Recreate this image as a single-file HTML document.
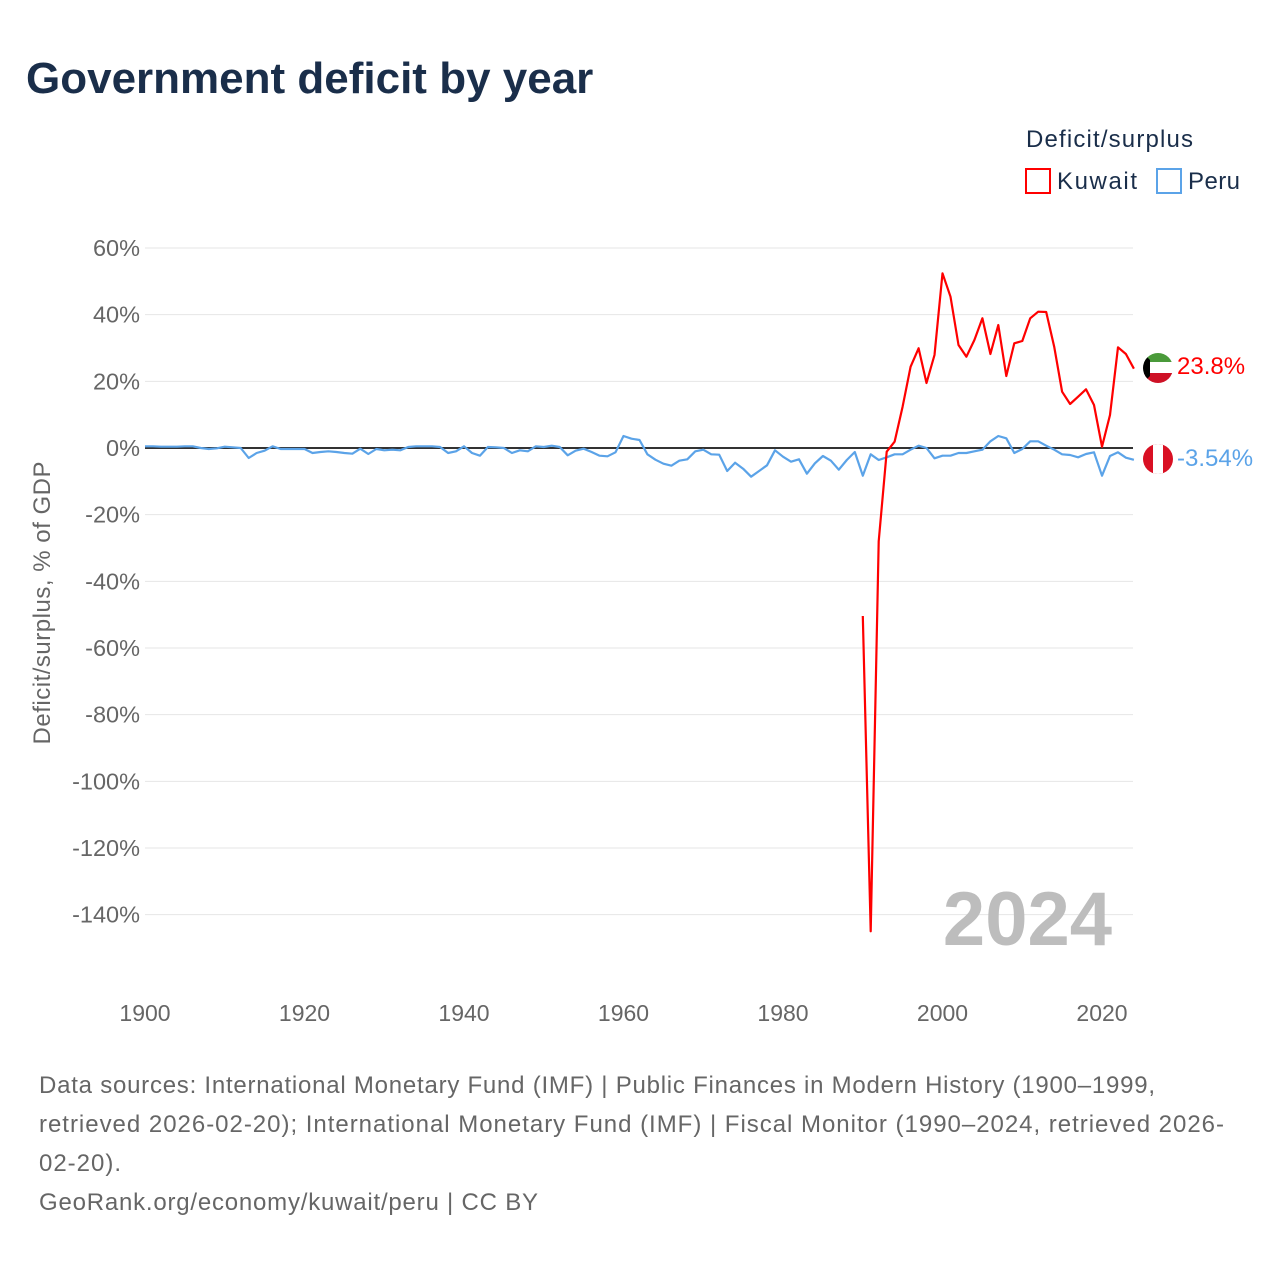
<!DOCTYPE html>
<html><head><meta charset="utf-8"><style>
body{margin:0;background:#fff;font-family:"Liberation Sans",sans-serif}
svg{display:block}
</style></head><body>
<svg id="chart" width="1280" height="1280" viewBox="0 0 1280 1280" xmlns="http://www.w3.org/2000/svg">
<text x="26" y="93" font-size="44" font-weight="bold" fill="#1a2e4a" font-family="Liberation Sans, sans-serif">Government deficit by year</text>
<g>
<text x="1026" y="147" font-size="24" fill="#1a2e4a" textLength="167">Deficit/surplus</text>
<g><rect x="1026" y="169" width="24" height="24" fill="#fff" stroke="#ff0000" stroke-width="2"/><text x="1057" y="189" font-size="24" fill="#1a2e4a" textLength="80">Kuwait</text></g>
<g><rect x="1157" y="169" width="24" height="24" fill="#fff" stroke="#5ba3e8" stroke-width="2"/><text x="1188" y="189" font-size="24" fill="#1a2e4a" textLength="52">Peru</text></g>
</g>
<g id="grid"></g>
<g id="yticks"></g>
<g id="xticks"></g>
<text transform="translate(50,603) rotate(-90)" text-anchor="middle" font-size="24" fill="#666" textLength="283">Deficit/surplus, % of GDP</text>
<text x="1112" y="945" text-anchor="end" font-size="76" font-weight="bold" fill="#bdbdbd">2024</text>
<g id="series"></g>
<g>
<clipPath id="ck"><circle cx="1158" cy="368" r="15"/></clipPath>
<g clip-path="url(#ck)"><rect x="1140" y="350" width="40" height="12" fill="#4a9a3a"/><rect x="1140" y="362" width="40" height="11" fill="#fff"/><rect x="1140" y="373" width="40" height="12" fill="#ce1126"/><polygon points="1140,350 1150,360 1150,376 1140,386" fill="#000"/></g></g>
<g>
<clipPath id="cp"><circle cx="1158" cy="459" r="15"/></clipPath>
<g clip-path="url(#cp)"><rect x="1140" y="441" width="40" height="36" fill="#d91023"/><rect x="1153" y="441" width="10" height="36" fill="#fff"/></g></g>
<text id="kulabel" x="1177" y="374" font-size="24" fill="#ff0000"></text>
<text id="pelabel" x="1177" y="466" font-size="24" fill="#5ba3e8"></text>
<g font-size="24" fill="#666">
<text x="39" y="1093" textLength="1116">Data sources: International Monetary Fund (IMF) | Public Finances in Modern History (1900–1999,</text>
<text x="39" y="1132" textLength="1185">retrieved 2026-02-20); International Monetary Fund (IMF) | Fiscal Monitor (1990–2024, retrieved 2026-</text>
<text x="39" y="1171" textLength="82">02-20).</text>
<text x="39" y="1210" textLength="499">GeoRank.org/economy/kuwait/peru | CC BY</text>
</g>
</svg>
<script>
const yTicks=[60,40,20,0,-20,-40,-60,-80,-100,-120,-140];
const xTicks=[1900,1920,1940,1960,1980,2000,2020];
const kuwaitYears=[1990,1991,1992,1993,1994,1995,1996,1997,1998,1999,2000,2001,2002,2003,2004,2005,2006,2007,2008,2009,2010,2011,2012,2013,2014,2015,2016,2017,2018,2019,2020,2021,2022,2023,2024];
const kuwaitValues=[-50.4,-145,-28,-1.1,1.9,12.4,24.4,29.9,19.5,27.9,52.4,45.4,30.9,27.4,32.4,38.9,28.2,36.9,21.6,31.4,32.1,38.9,40.9,40.8,30.4,16.9,13.2,15.4,17.6,12.9,0.4,9.9,30.2,28.2,23.8];
const peruStart=1900;
const peruValues=[0.5,0.5,0.4,0.4,0.4,0.5,0.5,0,-0.3,-0.1,0.4,0.2,0,-3,-1.5,-0.8,0.5,-0.3,-0.3,-0.3,-0.3,-1.5,-1.2,-1,-1.2,-1.5,-1.7,-0.2,-1.8,-0.3,-0.7,-0.5,-0.7,0.3,0.5,0.5,0.5,0.3,-1.5,-1,0.5,-1.5,-2.3,0.3,0.2,0,-1.5,-0.7,-1,0.5,0.3,0.7,0.3,-2.2,-0.8,-0.2,-1.2,-2.3,-2.5,-1.3,3.6,2.8,2.4,-1.9,-3.5,-4.7,-5.3,-3.8,-3.4,-1,-0.5,-1.9,-2,-6.9,-4.4,-6.2,-8.6,-6.9,-5.2,-0.7,-2.6,-4.1,-3.4,-7.7,-4.6,-2.4,-3.8,-6.5,-3.6,-1.2,-8.3,-1.9,-3.6,-2.8,-1.9,-1.9,-0.5,0.7,0,-3.1,-2.3,-2.3,-1.5,-1.5,-1,-0.5,2,3.6,2.9,-1.5,-0.3,2,2,0.7,-0.5,-1.9,-2.1,-2.8,-1.8,-1.3,-8.3,-2.4,-1.3,-2.9,-3.54];
const X=y=>145+(y-1900)*957/120;
const Y=v=>448-v*200/60;
const NS="http://www.w3.org/2000/svg";
function mk(tag,attrs,parent){const e=document.createElementNS(NS,tag);for(const k in attrs)e.setAttribute(k,attrs[k]);parent.appendChild(e);return e;}
const grid=document.getElementById('grid'),yt=document.getElementById('yticks'),xt=document.getElementById('xticks'),ser=document.getElementById('series');
yTicks.forEach(t=>{
 if(t!==0){const l=mk('line',{x1:145,x2:1133,y1:Y(t),y2:Y(t),stroke:'#e6e6e6','stroke-width':1},grid);
 
 }
 const tx=mk('text',{x:140,y:Y(t)+8,'text-anchor':'end','font-size':23.5,fill:'#666'},yt);tx.textContent=t+'%';
 
 
});
xTicks.forEach(t=>{const tx=mk('text',{x:X(t),y:1021,'text-anchor':'middle','font-size':23,fill:'#666'},xt);tx.textContent=t;
 
 });
const zl=mk('line',{x1:145,x2:1133,y1:Y(0),y2:Y(0),stroke:'#333','stroke-width':2},grid);


const pp=peruValues.map((v,i)=>X(peruStart+i).toFixed(1)+','+Y(v).toFixed(1)).join(' ');
const pl=mk('polyline',{points:pp,fill:'none',stroke:'#5ba3e8','stroke-width':2.2,'stroke-linejoin':'round'},ser);


const kp=kuwaitValues.map((v,i)=>X(kuwaitYears[i]).toFixed(1)+','+Y(v).toFixed(1)).join(' ');
const kl=mk('polyline',{points:kp,fill:'none',stroke:'#ff0000','stroke-width':2.2,'stroke-linejoin':'round'},ser);


document.getElementById('kulabel').textContent=kuwaitValues[kuwaitValues.length-1]+'%';
document.getElementById('pelabel').textContent=peruValues[peruValues.length-1]+'%';
</script>
</body></html>
